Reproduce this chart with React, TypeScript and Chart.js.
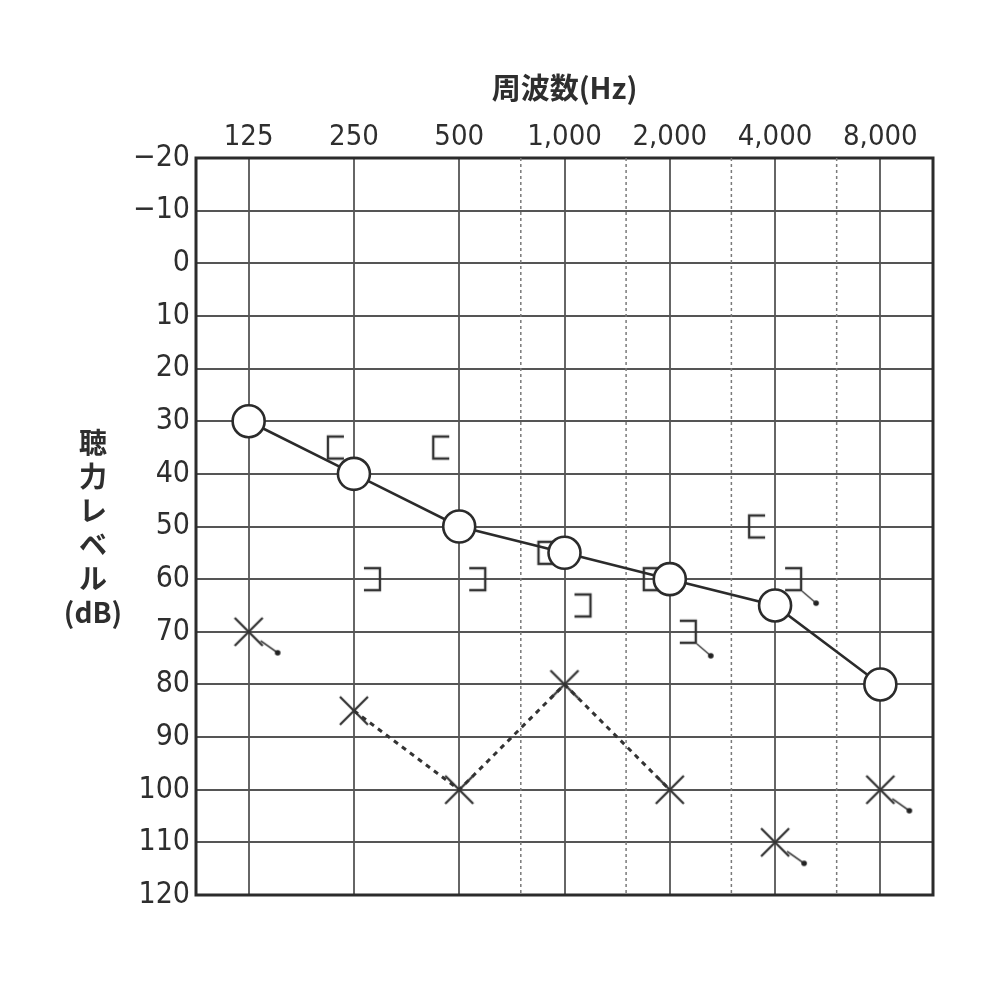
import React, { useEffect, useRef } from 'react';
import { Chart, registerables } from 'chart.js';

Chart.register(...registerables);

// ---- data ----
const freqs = [125, 250, 500, 1000, 2000, 4000, 8000];
const freqLabels = ['125', '250', '500', '1,000', '2,000', '4,000', '8,000'];
const midFreqs = [750, 1500, 3000, 6000];
const dbLevels = [-20, -10, 0, 10, 20, 30, 40, 50, 60, 70, 80, 90, 100, 110, 120];
const dbLabels = ['−20', '−10', '0', '10', '20', '30', '40', '50', '60', '70', '80', '90', '100', '110', '120'];

const rightAir = [30, 40, 50, 55, 60, 65, 80];
const leftAir = [70, 85, 100, 80, 100, 110, 100];
const leftAirScaleOut = [true, false, false, false, false, true, true];
const rightBone = [null, 35, 35, 55, 60, 50, null];
const leftBone = [null, 60, 60, 65, 70, 60, null];
const leftBoneScaleOut = [false, false, false, false, true, true, false];

const xTitle = '周波数(Hz)';
const yTitleLines = ['聴', '力', 'レ', 'ベ', 'ル', '(dB)'];

// ---- style ----
const INK = '#2b2b2b';
const TICK_FONT = "'Liberation Sans Narrow', 'DejaVu Sans Condensed', 'Liberation Sans', sans-serif";
const CJK_FONT = "'Noto Sans CJK JP', 'Noto Sans', sans-serif";

function makeMarker(w: number, h: number, draw: (ctx: CanvasRenderingContext2D) => void) {
  const c = document.createElement('canvas');
  c.width = w;
  c.height = h;
  const ctx = c.getContext('2d')!;
  ctx.translate(w / 2, h / 2);
  draw(ctx);
  return c;
}

function drawArrow(ctx: CanvasRenderingContext2D, x0: number, y0: number, x1: number, y1: number) {
  ctx.save();
  ctx.strokeStyle = '#444';
  ctx.lineWidth = 1.6;
  ctx.beginPath();
  ctx.moveTo(x0, y0);
  ctx.lineTo(x1, y1);
  ctx.stroke();
  ctx.fillStyle = '#222';
  ctx.beginPath();
  ctx.arc(x1, y1, 2.8, 0, Math.PI * 2);
  ctx.fill();
  ctx.restore();
}

function crossMarker(arrow: boolean) {
  return makeMarker(90, 90, (ctx) => {
    ctx.strokeStyle = '#333';
    ctx.lineWidth = 2.3;
    ctx.beginPath();
    ctx.moveTo(-14, -14);
    ctx.lineTo(14, 14);
    ctx.moveTo(14, -14);
    ctx.lineTo(-14, 14);
    ctx.stroke();
    if (arrow) drawArrow(ctx, 12, 9, 29, 21);
  });
}

function bracketMarker(side: number, arrow: boolean) {
  return makeMarker(110, 80, (ctx) => {
    const cx = side * 18;
    const w = 16;
    const h = 22;
    const back = cx + (side * w) / 2;
    const tip = cx - (side * w) / 2;
    ctx.strokeStyle = '#333';
    ctx.lineWidth = 2.4;
    ctx.beginPath();
    ctx.moveTo(tip, -h / 2);
    ctx.lineTo(back, -h / 2);
    ctx.lineTo(back, h / 2);
    ctx.lineTo(tip, h / 2);
    ctx.stroke();
    if (arrow) drawArrow(ctx, back + 1, h / 2 + 1, back + 15, h / 2 + 13);
  });
}

const framePlugin = {
  id: 'frame',
  beforeDatasetsDraw(chart: any) {
    const { ctx, chartArea: a } = chart;
    ctx.save();
    ctx.strokeStyle = INK;
    ctx.lineWidth = 3;
    ctx.strokeRect(a.left, a.top, a.right - a.left, a.bottom - a.top);
    ctx.restore();
  },
};

export default function App() {
  const ref = useRef<HTMLCanvasElement>(null);

  useEffect(() => {
    if (!ref.current) return;
    const crossPlain = crossMarker(false);
    const crossOut = crossMarker(true);
    const openLeft = bracketMarker(-1, false);
    const closeRight = bracketMarker(1, false);
    const closeRightOut = bracketMarker(1, true);

    const yMin = dbLevels[0];
    const yMax = dbLevels[dbLevels.length - 1];

    const midDatasets = midFreqs.map((f) => ({
      type: 'line' as const,
      data: [
        { x: f, y: yMin },
        { x: f, y: yMax },
      ],
      borderColor: '#7a7a7a',
      borderWidth: 1.5,
      borderDash: [3, 3],
      pointRadius: 0,
      order: 10,
    }));

    const chart = new Chart(ref.current, {
      type: 'line',
      data: {
        datasets: [
          {
            data: freqs.map((f, i) => ({ x: f, y: rightAir[i] })),
            borderColor: INK,
            borderWidth: 2.6,
            pointStyle: 'circle',
            pointRadius: 16,
            pointBorderWidth: 2.6,
            pointBackgroundColor: '#fff',
            pointBorderColor: INK,
            order: 0,
          },
          {
            data: freqs.map((f, i) => ({ x: f, y: leftAir[i] })),
            borderColor: '#333',
            borderWidth: 3,
            borderDash: [5, 5],
            segment: {
              borderColor: (c: any) =>
                leftAirScaleOut[c.p0DataIndex] || leftAirScaleOut[c.p1DataIndex] ? 'rgba(0,0,0,0)' : '#333',
            },
            pointStyle: (c: any) => (leftAirScaleOut[c.dataIndex] ? crossOut : crossPlain),
            pointRadius: 10,
            order: 2,
          },
          {
            data: freqs
              .map((f, i) => ({ x: f, y: rightBone[i] }))
              .filter((p) => p.y !== null),
            showLine: false,
            pointStyle: openLeft,
            pointRadius: 10,
            order: 1,
          },
          {
            data: freqs
              .map((f, i) => ({ x: f, y: leftBone[i], out: leftBoneScaleOut[i] }))
              .filter((p) => p.y !== null),
            showLine: false,
            pointStyle: (c: any) => (c.raw && c.raw.out ? closeRightOut : closeRight),
            pointRadius: 10,
            order: 1,
          },
          ...midDatasets,
        ] as any,
      },
      options: {
        responsive: false,
        animation: false,
        layout: { padding: { left: 0, top: 0, right: 67, bottom: 87 } },
        plugins: {
          legend: { display: false },
          tooltip: { enabled: false },
        },
        scales: {
          x: {
            type: 'logarithmic',
            position: 'top',
            min: freqs[0] / Math.SQRT2,
            max: freqs[freqs.length - 1] * Math.SQRT2,
            afterBuildTicks: (scale: any) => {
              scale.ticks = freqs.map((v) => ({ value: v }));
            },
            afterFit: (scale: any) => {
              scale.height = 158;
            },
            ticks: {
              autoSkip: false,
              maxRotation: 0,
              padding: 3,
              color: '#2e2e2e',
              font: { family: TICK_FONT, size: 29 },
              callback: (v: any) => {
                const i = freqs.indexOf(Number(v));
                return i >= 0 ? freqLabels[i] : '';
              },
            },
            grid: { color: '#666', lineWidth: 2, drawTicks: false },
            border: { display: false },
            title: {
              display: true,
              text: xTitle,
              color: '#2e2e2e',
              padding: { top: 71, bottom: 0 },
              font: { family: CJK_FONT, size: 29, weight: 'bold' },
            },
          },
          y: {
            type: 'linear',
            reverse: true,
            min: yMin,
            max: yMax,
            afterBuildTicks: (scale: any) => {
              scale.ticks = dbLevels.map((v) => ({ value: v }));
            },
            afterFit: (scale: any) => {
              scale.width = 196;
            },
            ticks: {
              padding: 6,
              color: '#2e2e2e',
              font: { family: TICK_FONT, size: 30 },
              callback: (v: any) => {
                const i = dbLevels.indexOf(Number(v));
                return i >= 0 ? dbLabels[i] : '';
              },
            },
            grid: { color: '#555', lineWidth: 2, drawTicks: false },
            border: { display: false },
          },
        },
      } as any,
      plugins: [framePlugin],
    });
    return () => chart.destroy();
  }, []);

  return (
    <div style={{ position: 'absolute', left: 0, top: 0, width: 1000, height: 982, background: '#fff' }}>
      <canvas ref={ref} width={1000} height={982} style={{ display: 'block' }} />
      <div
        style={{
          position: 'absolute',
          left: 53,
          top: 424,
          width: 80,
          textAlign: 'center',
          fontFamily: CJK_FONT,
          fontWeight: 700,
          fontSize: 28,
          lineHeight: '34px',
          color: '#2e2e2e',
        }}
      >
        {yTitleLines.map((t, i) => (
          <div key={i}>{t}</div>
        ))}
      </div>
    </div>
  );
}
